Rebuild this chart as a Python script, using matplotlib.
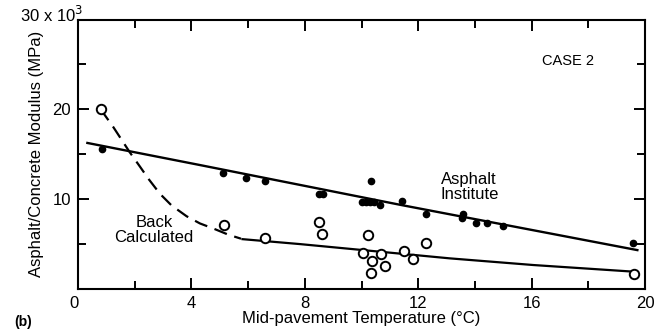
import matplotlib
import matplotlib.pyplot as plt
import numpy as np
matplotlib.use('Agg')

plt.rcParams['font.family'] = ['Liberation Sans', 'DejaVu Sans']

# measured points, temperature (C) and modulus (x1000 MPa)
ai_temp = [0.84, 5.13, 5.91, 6.60, 8.50, 8.65, 10.0, 10.15, 10.3, 10.35, 10.45, 10.65, 11.44, 12.29,
           13.59, 13.53, 14.03, 14.42, 15.0, 19.59]
ai_mod = [15.6, 12.9, 12.4, 12.0, 10.6, 10.6, 9.7, 9.7, 9.7, 12.0, 9.7, 9.33, 9.78, 8.4,
          8.4, 7.85, 7.4, 7.3, 7.0, 5.07]

bc_temp = [0.80, 5.15, 6.61, 8.49, 8.61, 10.24, 10.04, 10.38, 10.33, 10.70, 10.83, 11.51, 11.8, 12.26, 19.62]
bc_mod = [20.07, 7.07, 5.7, 7.48, 6.07, 5.96, 4.0, 3.1, 1.74, 3.9, 2.56, 4.22, 3.37, 5.1, 1.67]

# fitted curves
ai_fit_t = [0.33, 4.3, 11.4, 19.73]
ai_fit_m = [16.26, 13.8, 9.35, 4.33]

bc_dash_t = [0.8, 1.25, 1.83, 2.19, 2.5, 2.89, 3.3, 3.83, 4.3, 4.8, 5.3, 5.75]
bc_dash_m = [20.0, 18.0, 15.2, 13.6, 12.2, 10.6, 9.3, 8.1, 7.3, 6.7, 6.05, 5.6]

bc_fit_t = [5.8, 7.83, 13.12, 16.06, 19.6]
bc_fit_m = [5.55, 5.0, 3.41, 2.67, 1.93]

fig = plt.figure(figsize=(6.68, 3.33), dpi=100)
ax = fig.add_axes([0.1168, 0.1321, 0.8488, 0.8093])

ax.plot(ai_fit_t, ai_fit_m, color='black', lw=1.7)
ax.plot(bc_dash_t, bc_dash_m, color='black', lw=1.6, ls=(0, (6, 3.5)))
ax.plot(bc_fit_t, bc_fit_m, color='black', lw=1.6)
ax.plot(ai_temp, ai_mod, 'o', color='black', ms=4.5)
ax.plot(bc_temp, bc_mod, 'o', mfc='white', mec='black', mew=1.4, ms=6.8)

ax.set_xlim(0, 20)
ax.set_ylim(0, 30)
ax.set_xticks([4, 8, 12, 16, 20])
ax.set_xticks([2, 6, 10, 14, 18], minor=True)
ax.set_yticks([10, 20])
ax.set_yticks([5, 15, 25], minor=True)
ax.tick_params(which='both', direction='in', top=True, right=True, labelsize=12, width=1.4)
ax.tick_params(which='major', length=8, pad=5)
ax.tick_params(which='minor', length=6)
for s in ax.spines.values():
    s.set_linewidth(1.5)

fig.text(0.118, 0.11, '0', fontsize=12, ha='right', va='top')
fig.text(0.125, 0.955, r'30 x 10$^3$', fontsize=12, ha='right', va='center')
ax.set_ylabel('Asphalt/Concrete Modulus (MPa)', fontsize=12, labelpad=6)
ax.set_xlabel('Mid-pavement Temperature (\u00b0C)', fontsize=12, labelpad=0)
fig.text(0.022, 0.032, '(b)', fontsize=10, fontweight='bold', ha='left', va='center')

ax.text(17.3, 25.4, 'CASE 2', fontsize=10.5, ha='center', va='center')
ax.text(13.8, 11.4, 'Asphalt\nInstitute', fontsize=12, ha='center', va='center', linespacing=1.0)
ax.text(2.68, 6.6, 'Back\nCalculated', fontsize=12, ha='center', va='center', linespacing=1.0)

fig.savefig('out.png', dpi=100)
